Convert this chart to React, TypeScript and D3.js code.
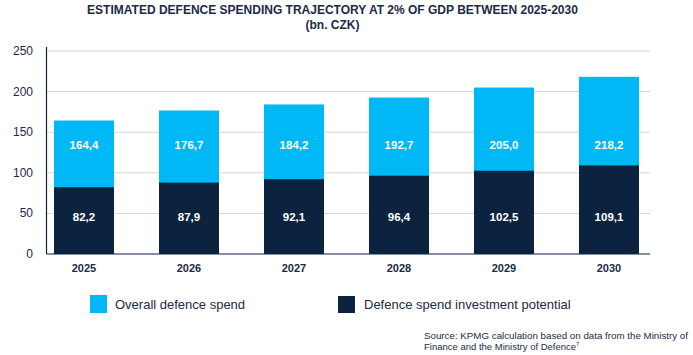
import React from "react";
import * as d3 from "d3";

const years = ["2025", "2026", "2027", "2028", "2029", "2030"];
const overall = [164.4, 176.7, 184.2, 192.7, 205.0, 218.2];
const investment = [82.2, 87.9, 92.1, 96.4, 102.5, 109.1];
const yTicks = [0, 50, 100, 150, 200, 250];
const overallLabels = ["164,4", "176,7", "184,2", "192,7", "205,0", "218,2"];
const investmentLabels = ["82,2", "87,9", "92,1", "96,4", "102,5", "109,1"];
const legendItems = ["Overall defence spend", "Defence spend investment potential"];

const W = 693;
const H = 355;
const LIGHT = "#00b8f5";
const DARK = "#0c2340";
const TEXT = "#1b2a45";
const FONT = "'Liberation Sans', Arial, sans-serif";

export default function App() {
  const x = d3.scaleBand<string>().domain(years).range([54, 639]).paddingInner(45 / 105).paddingOuter(0);
  const y = d3.scaleLinear().domain([0, 250]).range([254, 51]);
  const left = 46.5;
  const right = 650;
  const bw = x.bandwidth();

  return (
    <svg width={W} height={H} style={{ position: "absolute", left: 0, top: 0 }} fontFamily={FONT}>
      <rect width={W} height={H} fill="#fff" />
      <text x={332.5} y={14} textAnchor="middle" fontWeight="bold" fontSize={12} fill={TEXT}>
        ESTIMATED DEFENCE SPENDING TRAJECTORY AT 2% OF GDP BETWEEN 2025-2030
      </text>
      <text x={332.5} y={29} textAnchor="middle" fontWeight="bold" fontSize={12} fill={TEXT}>
        (bn. CZK)
      </text>

      {yTicks.map((t) => (
        <g key={t}>
          {t > 0 && <line x1={left} x2={right} y1={y(t)} y2={y(t)} stroke="#d6d6d6" strokeWidth={1} />}
          <text x={33} y={y(t) + 4} textAnchor="end" fontSize={12} fill={TEXT}>
            {t}
          </text>
        </g>
      ))}

      {years.map((yr, i) => (
        <g key={yr}>
          <rect x={x(yr)} y={y(overall[i])} width={bw} height={y(0) - y(overall[i])} fill={LIGHT} />
          <rect x={x(yr)} y={y(investment[i])} width={bw} height={y(0) - y(investment[i])} fill={DARK} />
          <text x={x(yr)! + bw / 2} y={149} textAnchor="middle" fontWeight="bold" fontSize={11.5} fill="#fff">
            {overallLabels[i]}
          </text>
          <text x={x(yr)! + bw / 2} y={221} textAnchor="middle" fontWeight="bold" fontSize={11.5} fill="#fff">
            {investmentLabels[i]}
          </text>
          <text x={x(yr)! + bw / 2} y={272} textAnchor="middle" fontWeight="bold" fontSize={11} fill={TEXT}>
            {yr}
          </text>
        </g>
      ))}

      <line x1={left} x2={left} y1={47} y2={254} stroke={DARK} strokeWidth={1.2} />
      <line x1={left} x2={right} y1={254} y2={254} stroke={DARK} strokeWidth={1.2} />

      <rect x={90} y={295} width={17} height={18} fill={LIGHT} />
      <text x={115} y={309} fontSize={13} fill={TEXT}>{legendItems[0]}</text>
      <rect x={338} y={296} width={17} height={17} fill={DARK} />
      <text x={364} y={309} fontSize={13} fill={TEXT}>{legendItems[1]}</text>

      <text x={424} y={339} fontSize={9.5} fill={TEXT} textLength={264} lengthAdjust="spacingAndGlyphs">
        Source: KPMG calculation based on data from the Ministry of
      </text>
      <text x={424} y={350} fontSize={9.5} fill={TEXT}>
        Finance and the Ministry of Defence<tspan fontSize={6} dy={-4}>7</tspan>
      </text>
    </svg>
  );
}
